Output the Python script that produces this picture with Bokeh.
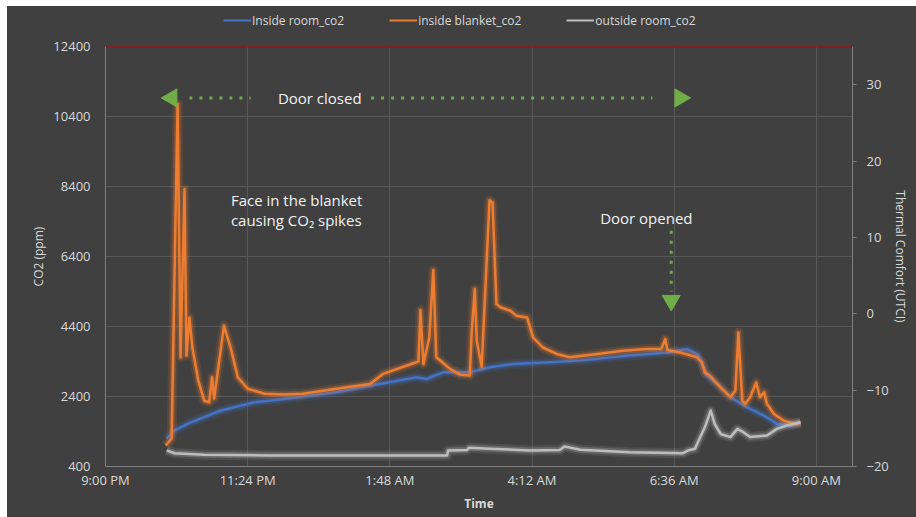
import math
from bokeh.plotting import figure
from bokeh.layouts import column
from bokeh.models import (Range1d, LinearAxis, FixedTicker, Legend, LegendItem,
                          Span, Label)
from bokeh.embed import file_html
from bokeh.resources import INLINE

# ---------------- data ----------------
room_times = ["22:02", "22:10", "22:23", "22:40", "22:57", "23:31", "00:01", "00:54",
              "01:28", "02:15", "02:25", "02:42", "03:09", "03:29", "03:53", "05:01",
              "05:51", "06:30", "06:49", "07:00", "07:09", "07:19", "07:33", "07:50",
              "08:07", "08:20", "08:34", "08:44"]
room_co2 = [1190, 1430, 1620, 1810, 2000, 2235, 2330, 2520,
            2710, 2950, 2900, 3090, 3090, 3235, 3330, 3425,
            3570, 3660, 3760, 3600, 3000, 2760, 2380, 2090,
            1855, 1620, 1570, 1660]

blanket_times = ["22:01", "22:07", "22:13", "22:16", "22:20", "22:22", "22:25", "22:28",
                 "22:34", "22:40", "22:45", "22:48", "22:50", "23:00", "23:07", "23:14",
                 "23:24", "23:41", "00:01", "00:20", "00:54", "01:28", "01:41", "02:17",
                 "02:19", "02:22", "02:28", "02:32", "02:35", "02:49", "02:59", "03:09",
                 "03:11", "03:14", "03:16", "03:21", "03:29", "03:32", "03:36", "03:40",
                 "03:50", "03:56", "04:07", "04:13", "04:23", "04:37", "04:50", "05:18",
                 "05:44", "06:08", "06:23", "06:27", "06:29", "06:42", "06:59", "07:04",
                 "07:07", "07:12", "07:23", "07:33", "07:38", "07:41", "07:45", "07:48",
                 "07:53", "07:59", "08:03", "08:07", "08:10", "08:17", "08:27", "08:37",
                 "08:44"]
blanket_co2 = [1000, 1200, 10760, 3520, 8330, 3570, 4660, 3800,
               2855, 2280, 2235, 2950, 2340, 4420, 3770, 2950,
               2620, 2480, 2455, 2480, 2620, 2760, 3045, 3400,
               4870, 3330, 4090, 6010, 3520, 3190, 3025, 3000,
               4280, 5470, 4000, 3250, 8010, 7940, 5040, 4950,
               4850, 4710, 4660, 4090, 3800, 3615, 3520, 3615,
               3710, 3760, 3760, 4045, 3730, 3660, 3520, 3380,
               3090, 3000, 2660, 2380, 2570, 4230, 2280, 2190,
               2380, 2800, 2380, 2520, 2190, 1900, 1710, 1620,
               1640]

outside_times = ["22:02", "22:10", "22:40", "23:46", "02:46", "02:47", "03:06", "03:08",
                 "03:29", "04:10", "04:40", "04:45", "05:01", "05:51", "06:45", "06:50",
                 "06:57", "07:07", "07:13", "07:17", "07:23", "07:33", "07:40", "07:46",
                 "07:53", "08:10", "08:20", "08:30", "08:44"]
outside_co2 = [860, 780, 735, 714, 714, 857, 870, 934,
               910, 857, 870, 970, 880, 808, 780, 857,
               905, 1520, 2000, 1620, 1330, 1240, 1475, 1380,
               1240, 1285, 1475, 1570, 1665]

series_names = ["Inside room_co2", "inside blanket_co2", "outside room_co2"]
x_tick_labels = ["9:00 PM", "11:24 PM", "1:48 AM", "4:12 AM", "6:36 AM", "9:00 AM"]
x_tick_hours = [0, 2.4, 4.8, 7.2, 9.6, 12.0]
co2_ticks = [400, 2400, 4400, 6400, 8400, 10400, 12400]
utci_ticks = [-20, -10, 0, 10, 20, 30]


def to_hours(t):
    """hours elapsed since 9:00 PM"""
    h, m = (int(s) for s in t.split(":"))
    if h < 12:
        h += 24
    return h - 21 + m / 60.0


# annotation anchors (time, ppm)
door_closed_y = 10930
door_closed_text = ("00:37", 10930)
face_text = ("23:07", 8020)
face_text2 = ("23:07", 7450)
door_opened_text = ("05:21", 7486)

# ---------------- styling ----------------
BG = "#404040"
TXT = "#D9D9D9"
FONT = "Open Sans"
colors = ["#4472C4", "#ED7D31", "#BDBDBD"]

# ---------------- legend strip ----------------
lf = figure(width=909, height=30, output_backend="svg", toolbar_location=None,
            x_range=Range1d(0, 1), y_range=Range1d(0, 1),
            x_axis_type=None, y_axis_type=None,
            background_fill_color=BG, border_fill_color=BG, outline_line_color=None,
            min_border=0)
lf.grid.visible = False
leg_renderers = [lf.line([-5, -4], [-5, -4], line_color=c, line_width=2) for c in colors]
legend = Legend(items=[LegendItem(label=n, renderers=[r]) for n, r in zip(series_names, leg_renderers)],
                orientation="horizontal", location=(118, 6))
legend.background_fill_alpha = 0
legend.border_line_color = None
legend.label_text_color = TXT
legend.label_text_font = FONT
legend.label_text_font_size = "12px"
legend.glyph_width = 28
legend.label_standoff = 1
legend.spacing = 45
legend.padding = 2
legend.margin = 0
lf.add_layout(legend)

# ---------------- main figure ----------------
p = figure(width=909, height=481, output_backend="svg", toolbar_location=None,
           x_range=Range1d(0, 12.61), y_range=Range1d(400, 12400),
           background_fill_color=BG, border_fill_color=BG,
           min_border_left=98, min_border_right=64, min_border_top=10,
           min_border_bottom=51, outline_line_color=None)
p.extra_y_ranges = {"utci": Range1d(-20, 35)}

p.xaxis.ticker = FixedTicker(ticks=x_tick_hours)
p.xaxis.major_label_overrides = {t: l for t, l in zip(x_tick_hours, x_tick_labels)}
p.yaxis.ticker = FixedTicker(ticks=co2_ticks)
p.xaxis.axis_label = "Time"
p.yaxis.axis_label = "CO2 (ppm)"

for ax in (p.xaxis[0], p.yaxis[0]):
    ax.axis_line_color = "#7F7F7F"
    ax.axis_line_width = 1
    ax.major_tick_line_color = None
    ax.major_tick_in = 0
    ax.major_tick_out = 0
    ax.minor_tick_line_color = None
    ax.minor_tick_in = 0
    ax.minor_tick_out = 0
    ax.major_label_text_color = TXT
    ax.major_label_text_font = FONT
    ax.major_label_text_font_size = "13px"
    ax.axis_label_text_color = TXT
    ax.axis_label_text_font = FONT
    ax.axis_label_text_font_size = "12px"
    ax.axis_label_text_font_style = "bold"
p.yaxis.major_label_standoff = 15
p.yaxis.axis_label_standoff = 3
p.yaxis.axis_label_text_font_style = "normal"
p.xaxis.major_label_standoff = 4
p.xaxis.axis_label_standoff = 3

raxis = LinearAxis(y_range_name="utci", ticker=FixedTicker(ticks=utci_ticks),
                   axis_label="Thermal Comfort (UTCI)")
raxis.axis_line_color = "#7F7F7F"
raxis.major_tick_line_color = "#7F7F7F"
raxis.major_tick_in = 0
raxis.major_tick_out = 4
raxis.minor_tick_line_color = None
raxis.minor_tick_in = 0
raxis.minor_tick_out = 0
raxis.major_label_text_color = TXT
raxis.major_label_text_font = FONT
raxis.major_label_text_font_size = "13px"
raxis.major_label_standoff = 10
raxis.axis_label_text_color = TXT
raxis.axis_label_text_font = FONT
raxis.axis_label_text_font_size = "12px"
raxis.axis_label_text_font_style = "normal"
raxis.axis_label_standoff = 0
p.add_layout(raxis, "right")

p.xgrid.ticker = FixedTicker(ticks=x_tick_hours)
p.ygrid.ticker = FixedTicker(ticks=co2_ticks)
p.grid.grid_line_color = "#575757"
p.grid.grid_line_width = 1

p.add_layout(Span(location=12400, dimension="width", line_color="#C00000", line_width=2))

datasets = [(room_times, room_co2), (blanket_times, blanket_co2), (outside_times, outside_co2)]
for (times, vals), c in zip(datasets, colors):
    xs = [to_hours(t) for t in times]
    p.line(xs, vals, line_color=c, line_width=10, line_alpha=0.13, line_join="round")
    p.line(xs, vals, line_color=c, line_width=6, line_alpha=0.25, line_join="round")
    p.line(xs, vals, line_color=c, line_width=2.5, line_join="round")

# annotations
GREEN = "#70AD47"
dy = door_closed_y
p.segment(x0=[to_hours("22:25"), to_hours("01:29")], y0=[dy, dy],
          x1=[to_hours("23:27"), to_hours("06:14")], y1=[dy, dy],
          line_color=GREEN, line_width=3, line_dash="3 7")
p.scatter([to_hours("22:07"), to_hours("06:42")], [dy, dy], marker="triangle",
          size=18, angle=[math.pi / 2, -math.pi / 2], fill_color=GREEN, line_color=GREEN)
p.segment(x0=[to_hours("06:33")], y0=[7135], x1=[to_hours("06:33")], y1=[5400],
          line_color=GREEN, line_width=3, line_dash="3 7")
p.scatter([to_hours("06:33")], [5140], marker="triangle", size=18, angle=math.pi,
          fill_color=GREEN, line_color=GREEN)

for (t, yv), txt, align in [(door_closed_text, "Door closed", "center"),
                            (face_text, "Face in the blanket", "left"),
                            (face_text2, "causing CO₂ spikes", "left"),
                            (door_opened_text, "Door opened", "left")]:
    p.add_layout(Label(x=to_hours(t), y=yv, text=txt, text_color="#F2F2F2",
                       text_font=FONT, text_font_size="15px", text_align=align,
                       text_baseline="middle"))

layout = column(lf, p, spacing=0)
layout.margin = (6, 0, 0, 7)
layout.styles = {"background-color": BG}
open("out.html", "w").write(file_html(layout, INLINE))
